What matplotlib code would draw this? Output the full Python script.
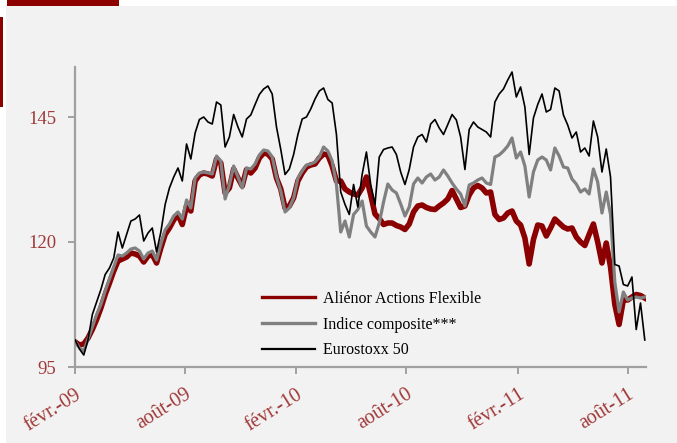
import matplotlib
matplotlib.use("Agg")
import matplotlib.pyplot as plt
from matplotlib.lines import Line2D
from matplotlib.patches import Rectangle
import pandas as pd

# ---- data ----
start_date = "2009-02-02"
end_date = "2011-08-29"

eurostoxx = [100.4, 98.6, 97.4, 100.5, 105.5, 108, 110.5, 113.5, 114.8, 116.8,
             122, 118.8, 121.5, 124.2, 124.6, 125.4, 120.2, 121.8, 122.8, 118,
             122, 127.5, 130.8, 133, 134.8, 132.2, 139.6, 136.6, 141.8, 144.5,
             145, 144, 143.6, 148, 147.4, 139, 141, 145.5, 143, 141,
             144.6, 145.4, 147.5, 149.5, 150.6, 151.2, 149.6, 143, 138.5, 133.5,
             134.6, 137.5, 141.5, 144.6, 145, 146.6, 148.6, 150.2, 150.8, 148.5,
             147.8, 141.5, 130, 127.5, 125.5, 131.5, 127, 133.5, 138, 131.5,
             127.5, 137, 138.5, 138.8, 139, 137.5, 134, 131.5, 134.5, 139,
             141, 141.5, 140, 143.6, 144.5, 142.8, 141.5, 143.5, 145.5, 144.4,
             141, 134.5, 142.5, 144, 143, 142.5, 142, 141, 148, 149.6,
             150.6, 152.4, 154, 149, 151, 147, 137.5, 144.8, 147.5, 149.6,
             146, 146.5, 150.8, 150.2, 145.4, 143.4, 140.8, 142, 138, 138.8,
             137.2, 144.2, 141, 134, 138.6, 133, 115.5, 115.2, 111.5, 111.2,
             113, 102.5, 107.8, 100.4]

alienor = [100, 99.4, 99.6, 100.8, 102.5, 104.5, 106.8, 109.5, 111.8, 114.2,
           116.2, 116.6, 117, 117.8, 117.6, 117.2, 116, 117.2, 117.5, 115.8,
           118.8, 121.5, 122.8, 124.4, 125.5, 123.5, 127.2, 126.2, 132.2, 133.4,
           133.8, 133.6, 133.2, 136.6, 135.8, 129.8, 130.8, 134.6, 132.8, 131.2,
           134.5, 133.8, 134.8, 136.8, 137.8, 137.6, 136.6, 132.8, 130.6, 126.8,
           127.2, 128.8, 132.2, 133.8, 135, 135.4, 135.6, 136.8, 137.6, 137.4,
           135.2, 132.2, 132.2, 130.6, 130, 129.6, 129.4, 130.8, 133, 129.4,
           125.6, 124.7, 123.5, 123.8, 123.8, 123.3, 123, 122.5, 123.6, 126,
           127.2, 127.4, 126.9, 126.6, 126.5, 127.2, 127.8, 128.6, 130.3, 128.6,
           126.9, 127.2, 129.4, 130.8, 131.3, 130.8, 129.8, 130, 125.5, 124.5,
           124.8, 125.8, 126.2, 124.2, 123.4, 120.8, 115.6, 120.5, 123.4, 123.2,
           121.2, 122.8, 124.6, 123.8, 123, 122.6, 122.8, 121, 120, 119.3,
           121.5, 123.6, 120, 115.8, 119.8, 115, 107.5, 103.5, 108.4, 108.4,
           109, 109.5, 109.3, 108.8]

composite = [100.2, 98.8, 98.2, 100.6, 103, 105.5, 107.5, 110.2, 112.6, 115,
             117.4, 117.2, 117.8, 118.6, 118.8, 118.2, 116.6, 117.8, 118.2, 116.4,
             119.6, 122.4, 123.6, 125.2, 126, 124.6, 128.4, 126.8, 132.8, 133.8,
             134, 133.8, 133.6, 137.2, 136.2, 128.6, 131.4, 135.2, 133, 130.8,
             134.8, 134.6, 135.6, 137.4, 138.4, 138.2, 137, 133, 130.2, 126,
             126.8, 128.8, 132.8, 134.2, 135.4, 135.6, 136, 137, 139, 138.2,
             136.2, 131.5, 122, 124.2, 121, 125.5, 126.5, 128.2, 123.2, 122,
             121, 123.8, 128, 131.6, 130.4, 129.8, 127.6, 125.2, 127, 131.6,
             132.8, 131.8, 133, 133.6, 132.4, 133, 134.4, 133.2, 131.8, 130.6,
             129.6, 127.2, 131.4, 131.8, 132.4, 132.8, 131.8, 131.5, 137, 137.4,
             138.2, 139.2, 140.8, 136.8, 138, 135.2, 129, 134, 136.4, 137,
             136.4, 134.4, 138.8, 137.2, 135, 134.8, 132.6, 131.6, 130, 130.6,
             129.6, 134.6, 132, 125.8, 130, 125.5, 112, 106, 110, 108.4,
             108.8, 109, 108.8, 109]

series_labels = ["Aliénor Actions Flexible", "Indice composite***", "Eurostoxx 50"]
tick_dates = ["2009-02-01", "2009-08-01", "2010-02-01", "2010-08-01", "2011-02-01", "2011-08-01"]
tick_labels = ["févr.-09", "août-09", "févr.-10", "août-10", "févr.-11", "août-11"]
y_ticks = [95, 120, 145]

dates = pd.date_range(start_date, end_date, periods=len(alienor))

# ---- styling ----
W, H = 677, 443
fig = plt.figure(figsize=(W / 100, H / 100), dpi=100, facecolor="white")
serif = ["Liberation Serif", "DejaVu Serif"]
red = "#8b0000"
label_red = "#a13a3a"

# page decorations
fig.patches.append(Rectangle((6 / W, 0), 1, (H - 6) / H, transform=fig.transFigure,
                             facecolor="#f2f2f2", edgecolor="none", zorder=-10))
fig.patches.append(Rectangle((7 / W, (H - 5.5) / H), (119 - 7) / W, 5.5 / H,
                             transform=fig.transFigure, facecolor="#8c0000",
                             edgecolor="none", zorder=-5))
fig.patches.append(Rectangle((0, (H - 107) / H), 3 / W, 90 / H,
                             transform=fig.transFigure, facecolor="#8c0000",
                             edgecolor="none", zorder=-5))

left, right = 74.6, 646
top, bottom = 67, 367
ax = fig.add_axes([left / W, (H - bottom) / H, (right - left) / W, (bottom - top) / H])
ax.set_facecolor("none")

ax.plot(dates, alienor, color=red, lw=4.0, solid_joinstyle="round", zorder=2)
ax.plot(dates, composite, color="#808080", lw=2.3, solid_joinstyle="round", zorder=3)
ax.plot(dates, eurostoxx, color="black", lw=1.2, zorder=4)

ax.set_ylim(95, 155)
ax.set_xlim(pd.Timestamp("2009-02-01"), pd.Timestamp("2011-08-31"))
ax.set_yticks(y_ticks)
ax.set_yticklabels([str(v) for v in y_ticks], family=serif, fontsize=13.5, color=label_red)
ax.set_xticks([pd.Timestamp(d) for d in tick_dates])
ax.set_xticklabels(tick_labels, family=serif, fontsize=14.5, color=label_red,
                   rotation=32, ha="right", va="top", rotation_mode="anchor")

for s in ["top", "right"]:
    ax.spines[s].set_visible(False)
for s in ["left", "bottom"]:
    ax.spines[s].set_color("#a0a0a0")
    ax.spines[s].set_linewidth(1.6)
ax.tick_params(axis="both", direction="out", length=5, width=1.4, color="#a0a0a0")
ax.tick_params(axis="y", pad=8)
ax.tick_params(axis="x", pad=8)

handles = [Line2D([], [], color=red, lw=2.4),
           Line2D([], [], color="#808080", lw=2.4),
           Line2D([], [], color="black", lw=1.6)]
fig.legend(handles, series_labels, loc="upper left",
           bbox_to_anchor=(262 / W, 1 - 291 / H), frameon=False,
           prop={"family": serif, "size": 11.5}, handlelength=3.3,
           handletextpad=0.5, labelspacing=0.6, borderpad=0, borderaxespad=0)

fig.savefig("out.png", dpi=100, facecolor="white")
